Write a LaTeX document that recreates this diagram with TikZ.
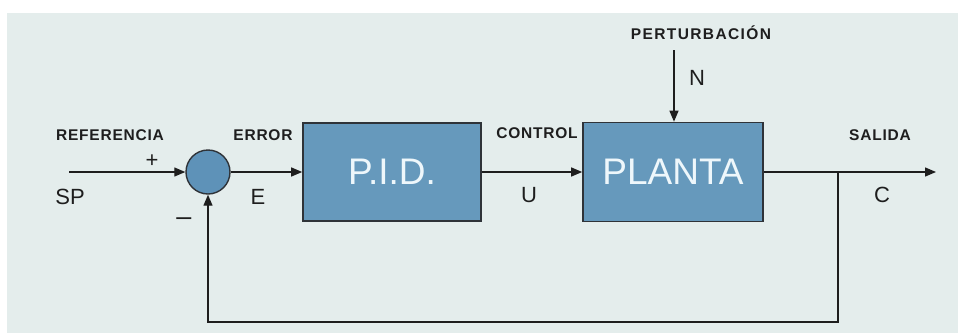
\documentclass[tikz,border=0pt]{standalone}
\usepackage{fontspec}
\setmainfont{Liberation Sans}
\newfontfamily\capfont[LetterSpace=5]{Liberation Sans}
\newfontfamily\widecapfont[LetterSpace=9]{Liberation Sans}
\usetikzlibrary{arrows.meta}
\definecolor{bgcol}{HTML}{E4EDEC}
\definecolor{boxfill}{HTML}{6699BC}
\definecolor{sumfill}{HTML}{5E92B8}
\definecolor{edgecol}{HTML}{2F3338}
\definecolor{inktext}{HTML}{1E1E1E}
\definecolor{boxtext}{HTML}{EEF7FB}
\begin{document}
\begin{tikzpicture}[x=1pt,y=-1pt,
  block/.style={draw=edgecol,line width=1.6pt,fill=boxfill,inner sep=0pt,
    text=boxtext,font=\fontsize{37}{40}\selectfont},
  sumnode/.style={circle,draw=edgecol,line width=1.4pt,fill=sumfill,
    minimum size=44pt,inner sep=0pt},
  caption/.style={text=inktext,inner sep=0pt,
    font=\capfont\fontsize{15.5}{17}\selectfont\bfseries},
  signal/.style={text=inktext,inner sep=0pt,font=\fontsize{22}{24}\selectfont},
  wire/.style={draw=inktext,line width=1.3pt},
  flow/.style={wire,-{Triangle[length=11pt,width=9pt]}}]
  % canvas and background panel
  \useasboundingbox (0,0) rectangle (958,333);
  \fill[bgcol] (7,13) rectangle (958,333);

  % blocks
  \node[sumnode] (sum) at (208,172) {};
  \node[block,minimum width=178pt,minimum height=98pt] (pid) at (392,172) {P.I.D.};
  \node[block,minimum width=180pt,minimum height=99pt] (plant) at (673,172) {PLANTA};

  % signal points
  \coordinate (sp) at (69,172);
  \coordinate (tap) at (838,172);
  \coordinate (out) at (936,172);
  \coordinate (dist) at (674,50);
  \coordinate (fbR) at (838,322);
  \coordinate (fbL) at (208,322);

  % connectors
  \draw[flow] (sp) -- (sum.west);
  \draw[flow] (sum.east) -- (pid.west);
  \draw[flow] (pid.east) -- (plant.west);
  \draw[flow] (plant.east) -- (out);
  \draw[flow] (dist) -- (dist |- plant.north);
  \draw[flow] (tap) -- (fbR) -- (fbL) -- (sum.south);

  % captions
  \node[caption] (lref) at (110,135) {REFERENCIA};
  \node[caption] (lerr) at (263,135) {ERROR};
  \node[caption] (lctl) at (537,133) {CONTROL};
  \node[caption] (lout) at (880,135) {SALIDA};
  \node[caption,font=\widecapfont\fontsize{15.5}{17}\selectfont\bfseries] (ldist) at (701,33) {PERTURBACIÓN};

  % signal names and signs
  \node[signal] (lsp) at (70,197) {SP};
  \node[signal] (le) at (258,197) {E};
  \node[signal] (lu) at (529,195) {U};
  \node[signal] (lc) at (882,195) {C};
  \node[signal] (ln) at (697,78) {N};
  \node[text=inktext,inner sep=0pt,font=\fontsize{22}{24}\selectfont] (plus) at (152,161) {+};
  \node[text=inktext,inner sep=0pt,font=\fontsize{27}{30}\selectfont] (minus) at (184,222) {–};
\end{tikzpicture}
\end{document}
